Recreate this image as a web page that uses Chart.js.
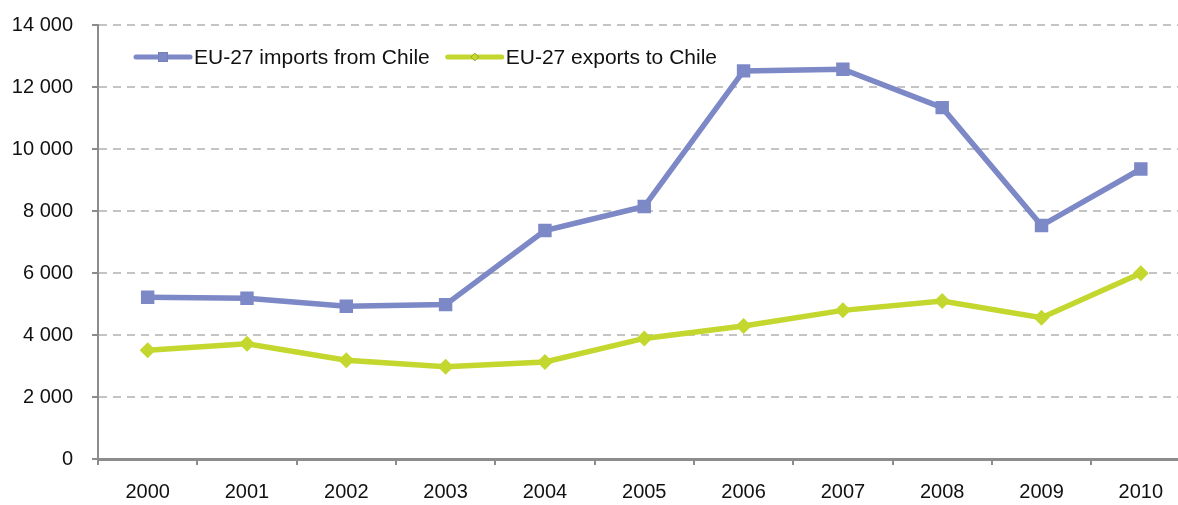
<!DOCTYPE html>
<html>
<head>
<meta charset="utf-8">
<script src="https://cdn.jsdelivr.net/npm/chart.js@4/dist/chart.umd.min.js"></script>
<style>
    html, body { margin: 0; padding: 0; background: #fff; overflow: hidden; }
    #wrap { position: relative; width: 1200px; height: 511px; margin-top: -6px; }
</style>
</head>
<body>
<div id="wrap"><canvas id="tradeChart"></canvas></div>
<script>
var years = ['2000', '2001', '2002', '2003', '2004', '2005', '2006', '2007', '2008', '2009', '2010'];
var importsFromChile = [5215, 5185, 4925, 4980, 7370, 8145, 12520, 12575, 11335, 7530, 9355];
var exportsToChile = [3510, 3720, 3185, 2975, 3130, 3890, 4290, 4795, 5095, 4560, 5995];
var yTicks = [0, 2000, 4000, 6000, 8000, 10000, 12000, 14000];

(function () {
    'use strict';

    var FONT = 'Liberation Sans, Arial, sans-serif';
    var AXIS = '#8c8c8c';

    function fmt(v) {
        return String(v).replace(/\B(?=(\d{3})+(?!\d))/g, ' ');
    }

    // legend drawn inside the plot area, top-left
    var insideLegend = {
        id: 'insideLegend',
        afterDraw: function (chart) {
            var ctx = chart.ctx;
            var area = chart.chartArea;
            var x = area.left + 38;
            var y = area.top + 32;
            ctx.save();
            ctx.font = '21px ' + FONT;
            ctx.textBaseline = 'middle';
            chart.data.datasets.forEach(function (ds) {
                ctx.strokeStyle = ds.borderColor;
                ctx.lineWidth = 5;
                ctx.lineCap = 'round';
                ctx.beginPath();
                ctx.moveTo(x, y);
                ctx.lineTo(x + 54, y);
                ctx.stroke();
                Chart.helpers.drawPoint(ctx, {
                    pointStyle: ds.pointStyle,
                    radius: ds.legendRadius,
                    borderWidth: 0
                }, x + 27, y);
                ctx.fillStyle = ds.borderColor;
                ctx.fill();
                ctx.fillStyle = '#111';
                ctx.fillText(ds.label, x + 58, y + 1);
                x += 58 + ctx.measureText(ds.label).width + 18;
            });
            ctx.restore();
        }
    };

    new Chart(document.getElementById('tradeChart'), {
        type: 'line',
        data: {
            labels: years,
            datasets: [
                {
                    label: 'EU-27 imports from Chile',
                    data: importsFromChile,
                    borderColor: '#7d88c6',
                    backgroundColor: '#7d88c6',
                    borderWidth: 5.5,
                    pointStyle: 'rect',
                    pointRadius: 9.5,
                    legendRadius: 7,
                    pointBorderWidth: 0,
                    tension: 0
                },
                {
                    label: 'EU-27 exports to Chile',
                    data: exportsToChile,
                    borderColor: '#c3d72e',
                    backgroundColor: '#c3d72e',
                    borderWidth: 5.5,
                    pointStyle: 'rectRot',
                    pointRadius: 8,
                    legendRadius: 4,
                    pointBorderWidth: 0,
                    tension: 0
                }
            ]
        },
        options: {
            responsive: true,
            maintainAspectRatio: false,
            animation: false,
            layout: { padding: { top: 2, right: 0, bottom: 0, left: 0 } },
            plugins: {
                legend: { display: false },
                tooltip: { enabled: false }
            },
            scales: {
                x: {
                    offset: true,
                    afterFit: function (scale) { scale.height = 46; },
                    grid: { offset: true, drawOnChartArea: false, drawTicks: true, tickLength: 6, color: AXIS, lineWidth: 2 },
                    border: { color: AXIS, width: 3 },
                    ticks: { color: '#111', padding: 15, maxRotation: 0, font: { family: FONT, size: 20 } }
                },
                y: {
                    min: 0,
                    max: 14000,
                    afterBuildTicks: function (scale) {
                        scale.ticks = yTicks.map(function (v) { return { value: v }; });
                    },
                    afterFit: function (scale) { scale.width = 98; },
                    grid: { color: '#c4c4c4', lineWidth: 2, tickLength: 6, tickColor: AXIS, tickBorderDash: [] },
                    border: { color: AXIS, width: 2, dash: [8, 6] },
                    ticks: {
                        color: '#111',
                        padding: 19,
                        font: { family: FONT, size: 20 },
                        callback: function (v) { return fmt(v); }
                    }
                }
            }
        },
        plugins: [insideLegend]
    });
})();
</script>
</body>
</html>
